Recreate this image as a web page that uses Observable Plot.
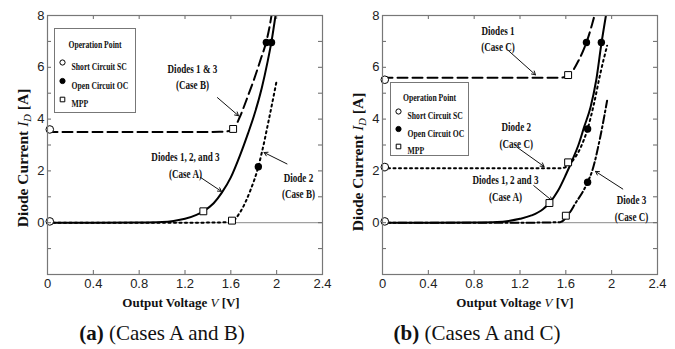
<!DOCTYPE html>
<html><head><meta charset="utf-8">
<script src="https://cdn.jsdelivr.net/npm/d3@7"></script>
<script src="https://cdn.jsdelivr.net/npm/@observablehq/plot@0.6"></script>
<style>
body{margin:0;background:#fff;width:675px;height:349px;overflow:hidden;font-family:"Liberation Serif",serif;}
#row{display:flex;}
#caps{position:relative;height:31px;}
.cap{position:absolute;top:0;font-size:21px;line-height:30px;transform:translateX(-50%);white-space:nowrap;color:#111}
</style></head><body>
<div id="row"></div>
<div id="caps"><span class="cap" id="capA"></span><span class="cap" id="capB"></span></div>
<script>
// ---------- axes ----------
const xTicks = [0, 0.4, 0.8, 1.2, 1.6, 2, 2.4];
const xTickLabels = ["0", "0.4", "0.8", "1.2", "1.6", "2", "2.4"];
const yTicks = [-2, -1, 0, 1, 2, 3, 4, 5, 6, 7, 8];
const yTickLabels = ["", "", "0", "", "2", "", "4", "", "6", "", "8"];
const xLabelText = ["Output Voltage ", "V", " [V]"];
const yLabelText = ["Diode Current ", "I", "D", " [A]"];
const legendTitle = "Operation Point";
const legendLabels = ["Short Circuit SC", "Open Circuit OC", "MPP"];
const captions = [["(a)", " (Cases A and B)"], ["(b)", " (Cases A and C)"]];

// ---------- panel (a) curves ----------
const aCaseA_V = [0, 0.4, 0.8, 1.0, 1.1, 1.2, 1.3, 1.36, 1.45, 1.52, 1.6, 1.68, 1.75, 1.8, 1.87, 1.92, 1.955, 1.99];
const aCaseA_I = [0, 0, 0.01, 0.03, 0.07, 0.15, 0.3, 0.44, 0.75, 1.15, 1.75, 2.6, 3.45, 4.1, 5.2, 6.2, 7.0, 8.0];
const aD13_V = [0, 0.4, 0.8, 1.2, 1.5, 1.6, 1.63, 1.68, 1.75, 1.8, 1.86, 1.91, 1.935, 1.955];
const aD13_I = [3.5, 3.5, 3.5, 3.5, 3.51, 3.55, 3.65, 4.1, 4.9, 5.5, 6.3, 7.0, 7.5, 8.0];
const aD2_V = [0, 0.4, 0.8, 1.2, 1.5, 1.61, 1.68, 1.77, 1.84, 1.87, 1.93, 2.0];
const aD2_I = [0, 0, 0, 0, 0.01, 0.05, 0.4, 1.24, 2.16, 2.7, 3.94, 5.48];
const aSC_V = [0.02, 0.02], aSC_I = [0.05, 3.6];
const aOC_V = [1.91, 1.955, 1.84], aOC_I = [6.96, 6.96, 2.16];
const aMPP_V = [1.36, 1.62, 1.61], aMPP_I = [0.44, 3.62, 0.08];
const aNotes = ["Diodes 1 & 3\n(Case B)", "Diodes 1, 2, and 3\n(Case A)", "Diode 2\n(Case B)"];
const aNoteV = [1.265, 1.204, 2.19], aNoteI = [5.68, 2.26, 1.47];
const aArrV1 = [1.483, 1.335, 2.09], aArrI1 = [4.83, 1.75, 2.27];
const aArrV2 = [1.667, 1.518, 1.89], aArrI2 = [4.13, 1.21, 2.71];

// ---------- panel (b) curves ----------
const bCaseA_V = [0, 0.4, 0.8, 1.0, 1.1, 1.2, 1.3, 1.4, 1.457, 1.53, 1.6, 1.66, 1.71, 1.76, 1.815, 1.865, 1.91, 1.95];
const bCaseA_I = [0, 0, 0.01, 0.03, 0.07, 0.15, 0.28, 0.52, 0.76, 1.22, 1.85, 2.45, 3.0, 3.7, 4.45, 5.5, 6.9, 8.0];
const bD1_V = [0, 0.4, 0.8, 1.2, 1.55, 1.6, 1.64, 1.71, 1.78, 1.83, 1.85];
const bD1_I = [5.6, 5.6, 5.6, 5.6, 5.6, 5.63, 5.75, 6.25, 6.96, 7.67, 8.0];
const bD2_V = [0, 0.4, 0.8, 1.2, 1.55, 1.6, 1.64, 1.73, 1.79, 1.845, 1.9, 1.96];
const bD2_I = [2.1, 2.1, 2.1, 2.1, 2.1, 2.15, 2.3, 2.91, 3.62, 4.58, 5.74, 6.83];
const bD3_V = [0, 0.4, 0.8, 1.2, 1.55, 1.62, 1.68, 1.79, 1.83, 1.9, 1.96];
const bD3_I = [0, 0, 0, 0, 0.02, 0.3, 0.72, 1.56, 2.0, 3.3, 4.71];
const bSC_V = [0.02, 0.02, 0.02], bSC_I = [0.05, 2.15, 5.52];
const bOC_V = [1.78, 1.91, 1.79, 1.79], bOC_I = [6.96, 6.96, 3.62, 1.56];
const bMPP_V = [1.457, 1.62, 1.62, 1.60], bMPP_I = [0.76, 5.7, 2.33, 0.27];
const bNotes = ["Diodes 1\n(Case C)", "Diode 2\n(Case C)", "Diodes 1, 2 and 3\n(Case A)", "Diode 3\n(Case C)"];
const bNoteV = [1.008, 1.167, 1.073, 2.173], bNoteI = [7.15, 3.42, 1.37, 0.59];
const bArrV1 = [1.10, 1.175, 1.32, 2.097], bArrI1 = [6.64, 2.91, 1.43, 1.30];
const bArrV2 = [1.335, 1.41, 1.48, 1.859], bArrI2 = [5.71, 2.17, 0.85, 1.98];

const pts = (V, I) => V.map((v, k) => ({v, c: I[k]}));
const SERIF = "Liberation Serif";

function panel(cfg) {
  const H = 318, mT = 15, mB = 44, mL = 47;
  const plotW = cfg.width - mL - cfg.mR, plotH = H - mT - mB;
  const lg = cfg.legend;
  const marks = [
    Plot.ruleY([0], {stroke: "#8a8a8a", strokeWidth: 1}),
    ...cfg.series.map(s => Plot.line(pts(s.V, s.I), {x: "v", y: "c", curve: "monotone-x", stroke: "#000",
      strokeWidth: 2, strokeDasharray: s.dash, clip: true})),
    Plot.arrow(cfg.arrV1.map((v, k) => k), {x1: k => cfg.arrV1[k], y1: k => cfg.arrI1[k], x2: k => cfg.arrV2[k], y2: k => cfg.arrI2[k],
      stroke: "#111", strokeWidth: 1, headLength: 6}),
    Plot.frame({insetLeft: lg.l, insetTop: lg.t, insetRight: plotW - lg.l - lg.w, insetBottom: plotH - lg.t - lg.h,
      fill: "white", stroke: "#777", strokeWidth: 1}),
    Plot.text([legendTitle], {frameAnchor: "top-left", dx: lg.l + lg.w / 2, dy: lg.t + lg.titleY, textAnchor: "middle",
      fontFamily: SERIF, fontWeight: "bold", fontSize: 11, fill: "#111"}),
    ...legendLabels.map((t, k) => Plot.text([t], {frameAnchor: "top-left", dx: lg.l + 17, dy: lg.t + lg.y0 + k * lg.step,
      textAnchor: "start", fontFamily: SERIF, fontWeight: "bold", fontSize: 11, fill: "#111"})),
    ...legendLabels.map((t, k) => Plot.dot([t], {frameAnchor: "top-left", dx: lg.l + 8, dy: lg.t + lg.y0 + k * lg.step,
      symbol: k === 2 ? "square" : "circle", r: 2.6, fill: k === 1 ? "#000" : "white", stroke: "#000", strokeWidth: 1})),
    Plot.dot(pts(cfg.sc[0], cfg.sc[1]), {x: "v", y: "c", r: 3.8, fill: "white", stroke: "#000", strokeWidth: 1}),
    Plot.dot(pts(cfg.mpp[0], cfg.mpp[1]), {x: "v", y: "c", r: 3.9, symbol: "square", fill: "white", stroke: "#000", strokeWidth: 1}),
    Plot.dot(pts(cfg.oc[0], cfg.oc[1]), {x: "v", y: "c", r: 3.7, fill: "#000"}),
    Plot.text(cfg.notes.map((t, k) => k), {x: k => cfg.noteV[k], y: k => cfg.noteI[k], text: k => cfg.notes[k],
      textAnchor: "middle", lineAnchor: "middle", lineHeight: 1.27, fontFamily: SERIF, fontWeight: "bold", fontSize: 13,
      fill: "#111"}),
    Plot.tickX(xTicks, {x: d => d, insetTop: plotH - 4, stroke: "#666"}),
    Plot.tickX(xTicks, {x: d => d, insetBottom: plotH - 4, stroke: "#666"}),
    Plot.tickY(yTicks, {y: d => d, insetRight: plotW - 4, stroke: "#666"}),
    Plot.tickY(yTicks, {y: d => d, insetLeft: plotW - 4, stroke: "#666"}),
    Plot.frame({stroke: "#777", strokeWidth: 1.2}),
    Plot.axisX({ticks: xTicks, tickSize: 0, tickPadding: 4, tickFormat: d => xTickLabels[xTicks.indexOf(d)], label: null, fill: "#222"}),
    Plot.axisY({ticks: yTicks, tickSize: 0, tickPadding: 3, tickFormat: d => yTickLabels[yTicks.indexOf(d)], label: null, fill: "#222"})
  ];
  const svg = Plot.plot({
    width: cfg.width, height: H, marginTop: mT, marginBottom: mB, marginLeft: mL, marginRight: cfg.mR,
    x: {domain: [0, 2.4], label: null}, y: {domain: [-2, 8], label: null},
    style: {fontFamily: "Liberation Sans", fontSize: "13px", background: "white", color: "#222", overflow: "visible"},
    marks
  });
  const s = d3.select(svg);
  const squeeze = new Set([legendTitle, ...legendLabels, ...cfg.notes.map(n => n.replace("\n", ""))]);
  s.selectAll("text").each(function () {
    if (!squeeze.has(this.textContent)) return;
    const x = +this.getAttribute("x") || 0;
    const t = this.getAttribute("transform") || "";
    this.setAttribute("transform", `${t} translate(${x},0) scale(0.7,1) translate(${-x},0)`);
  });
  // x label
  const xl = s.append("text").attr("x", cfg.xlx).attr("y", 307).attr("text-anchor", "middle")
    .attr("font-family", SERIF).attr("font-size", 13).attr("font-weight", "bold").attr("fill", "#111");
  xl.append("tspan").text(xLabelText[0]);
  xl.append("tspan").attr("font-style", "italic").attr("font-weight", "normal").text(xLabelText[1]);
  xl.append("tspan").text(xLabelText[2]);
  // y label
  const yl = s.append("text").attr("transform", `translate(28,${cfg.yly}) rotate(-90)`).attr("text-anchor", "middle")
    .attr("font-family", SERIF).attr("font-size", 15.5).attr("font-weight", "bold").attr("fill", "#111");
  yl.append("tspan").text(yLabelText[0]);
  yl.append("tspan").attr("font-style", "italic").attr("font-weight", "normal").text(yLabelText[1]);
  yl.append("tspan").attr("font-style", "italic").attr("font-weight", "normal").attr("font-size", 10.5).attr("dy", 3).text(yLabelText[2]);
  yl.append("tspan").attr("dy", -3).text(yLabelText[3]);
  return svg;
}

const row = document.getElementById("row");
row.appendChild(panel({
  width: 335, mR: 13, xlx: 181, yly: 158,
  series: [{V: aCaseA_V, I: aCaseA_I, dash: null}, {V: aD13_V, I: aD13_I, dash: "10,5"}, {V: aD2_V, I: aD2_I, dash: "2,3.5"}],
  sc: [aSC_V, aSC_I], oc: [aOC_V, aOC_I], mpp: [aMPP_V, aMPP_I],
  notes: aNotes, noteV: aNoteV, noteI: aNoteI, arrV1: aArrV1, arrI1: aArrI1, arrV2: aArrV2, arrI2: aArrI2,
  legend: {l: 7, t: 13, w: 81, h: 84, titleY: 12, y0: 34, step: 18.5}
}));
row.appendChild(panel({
  width: 340, mR: 18, xlx: 180, yly: 162,
  series: [{V: bCaseA_V, I: bCaseA_I, dash: null}, {V: bD1_V, I: bD1_I, dash: "10,5"}, {V: bD2_V, I: bD2_I, dash: "2,3.5"},
           {V: bD3_V, I: bD3_I, dash: "8,3,2,3"}],
  sc: [bSC_V, bSC_I], oc: [bOC_V, bOC_I], mpp: [bMPP_V, bMPP_I],
  notes: bNotes, noteV: bNoteV, noteI: bNoteI, arrV1: bArrV1, arrI1: bArrI1, arrV2: bArrV2, arrI2: bArrI2,
  legend: {l: 8, t: 67, w: 78, h: 73, titleY: 11, y0: 29, step: 17.5}
}));

const capA = document.getElementById("capA"), capB = document.getElementById("capB");
capA.style.left = "162px"; capB.style.left = "477px";
capA.innerHTML = `<b>${captions[0][0]}</b>${captions[0][1]}`;
capB.innerHTML = `<b>${captions[1][0]}</b>${captions[1][1]}`;
</script>
</body></html>
